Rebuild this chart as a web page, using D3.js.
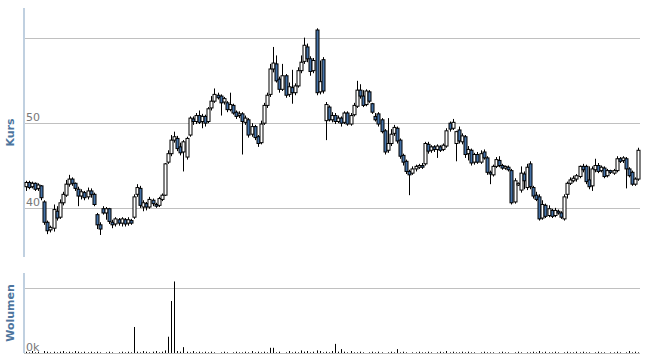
<!DOCTYPE html>
<html lang="pl">
<head>
<meta charset="UTF-8">
<title>Kurs / Wolumen</title>
<style>
    body { margin: 0; padding: 0; background: #fff; }
    svg { display: block; }
    .tick-label { font-family: "DejaVu Sans", Verdana, sans-serif; font-size: 11px; fill: #777; }
    .axis-title { font-family: "DejaVu Sans", Verdana, sans-serif; font-size: 11px; font-weight: bold; fill: #4d759e; }
</style>
</head>
<body>
<div id="chart"></div>
<script src="https://cdn.jsdelivr.net/npm/d3@7"></script>
<script>
// price data (one candle per session)
const opens = [
    42.5,43.0,42.5,42.9,42.3,42.6,40.7,38.3,37.4,37.6,
    39.6,38.9,40.6,41.5,42.8,43.4,42.9,42.2,41.4,41.8,
    41.3,42.0,41.6,39.2,38.0,39.9,39.4,39.9,38.3,38.1,
    38.6,38.2,38.6,38.2,38.5,38.9,41.6,42.3,40.1,40.5,
    40.1,40.9,40.4,40.3,41.0,41.5,45.4,46.4,48.0,48.2,
    47.2,46.6,46.0,48.6,50.5,50.2,50.9,50.2,50.8,50.2,
    51.8,52.6,53.3,53.2,52.5,52.4,51.6,52.1,51.3,50.9,
    51.1,50.1,50.4,48.7,49.6,48.4,47.7,50.0,52.1,53.4,
    56.4,57.0,55.2,54.0,55.6,53.4,54.2,53.6,54.4,56.2,
    57.3,59.0,57.6,56.2,61.0,53.7,57.5,50.3,51.9,50.4,
    50.9,50.2,50.6,50.1,51.2,49.9,51.0,52.0,53.9,53.2,
    52.2,53.7,52.3,50.8,51.1,50.4,49.1,46.8,47.6,48.8,
    49.4,48.0,46.2,45.5,44.3,44.1,44.6,44.8,45.0,45.2,
    47.5,46.8,47.2,46.9,47.2,46.9,47.3,50.0,49.4,47.6,
    49.2,47.8,48.4,46.4,46.8,45.4,46.3,45.4,46.6,45.9,
    44.2,43.9,44.9,45.6,45.0,44.7,44.8,44.4,40.7,42.7,
    42.1,44.0,42.4,45.2,42.4,41.5,41.3,38.8,40.3,39.1,
    39.7,39.1,39.6,39.4,38.7,41.6,42.9,43.2,43.4,43.7,
    44.9,44.9,43.3,42.6,44.5,45.0,44.4,44.7,43.8,44.4,
    44.1,44.4,45.8,45.6,45.8,44.6,44.2,42.8,43.4
];
const highs = [
    43.2,43.2,43.1,43.0,42.9,42.7,40.9,38.5,37.9,40.4,
    40.2,41.0,41.9,43.3,43.9,43.6,43.0,42.5,42.2,42.0,
    42.4,42.3,41.8,39.4,38.3,40.2,40.1,40.0,38.6,38.9,
    38.8,38.9,38.8,38.9,38.7,41.6,42.8,42.6,40.9,40.7,
    41.3,41.1,40.6,41.3,41.7,45.3,46.8,48.6,49.0,48.5,
    47.7,48.0,48.4,50.8,50.8,51.2,51.5,51.1,51.0,51.9,
    53.2,54.1,53.6,53.4,53.1,52.6,53.6,52.3,51.5,51.4,
    51.3,50.9,50.6,50.0,49.8,48.6,50.3,52.4,53.6,57.0,
    59.0,58.0,55.5,57.0,55.8,54.8,56.3,54.7,56.6,58.0,
    60.1,59.4,57.9,57.7,61.2,57.4,57.8,52.5,52.1,51.3,
    51.2,50.9,50.8,51.4,51.4,51.2,52.4,55.0,54.6,53.9,
    54.0,53.9,52.4,51.2,51.3,50.6,49.3,50.6,49.3,49.8,
    49.6,48.2,46.4,45.7,44.5,44.9,45.1,45.2,45.3,47.8,
    47.8,47.4,47.4,47.5,47.4,47.6,49.4,50.2,50.5,49.1,
    49.6,48.8,48.6,47.3,47.0,46.5,46.6,46.8,46.9,46.1,
    44.4,45.1,46.0,46.1,45.2,45.0,45.0,44.6,43.5,43.0,
    44.9,44.3,45.2,45.5,42.6,41.9,41.6,40.9,40.5,40.3,
    39.9,40.0,39.8,39.6,41.6,43.1,43.6,43.8,44.0,45.0,
    45.2,45.1,44.9,44.9,45.8,45.3,45.0,44.9,44.6,44.5,
    44.6,46.1,46.0,46.1,46.0,44.8,44.4,43.6,47.1
];
const lows = [
    42.0,42.2,42.3,42.0,42.0,40.9,38.0,36.9,37.1,37.2,
    38.5,38.7,40.3,41.3,42.5,42.6,42.0,40.2,41.0,40.9,
    41.0,41.2,40.2,37.5,36.8,39.2,38.6,38.1,37.6,37.8,
    37.9,37.8,37.8,37.9,38.0,38.7,41.3,40.0,39.6,39.7,
    39.9,40.2,40.0,40.1,40.8,41.4,45.2,46.1,47.7,46.7,
    46.2,44.3,45.7,48.4,49.8,49.9,49.9,49.4,49.6,50.0,
    51.5,52.4,52.8,50.9,52.2,51.3,51.4,51.0,50.5,50.6,
    46.3,49.8,48.3,48.4,48.0,47.2,47.5,49.8,51.8,53.1,
    56.0,54.8,53.6,53.8,53.0,53.1,52.3,53.3,54.2,55.9,
    57.0,57.2,55.6,55.9,53.3,53.4,53.5,48.0,50.2,50.1,
    49.9,50.0,49.6,49.9,49.7,49.7,50.8,51.8,52.9,51.9,
    52.0,52.4,51.1,50.2,49.6,48.8,46.3,46.5,47.3,48.5,
    47.6,45.8,45.0,44.0,41.5,43.9,44.3,44.6,44.6,45.0,
    46.4,46.5,46.6,45.9,46.6,46.7,47.1,49.0,49.2,45.5,
    47.6,47.5,45.9,45.6,45.0,45.1,45.2,45.2,45.7,43.9,
    42.8,43.7,44.7,44.8,44.5,44.5,44.3,40.4,40.5,42.6,
    41.8,42.2,42.1,42.2,41.1,40.8,38.5,38.6,38.8,38.9,
    38.8,38.9,39.2,38.7,38.5,41.1,42.7,43.0,43.1,43.5,
    44.2,42.8,42.2,42.0,44.2,44.1,44.2,43.5,43.6,44.0,
    43.9,44.2,45.3,45.3,42.3,43.6,42.6,42.6,43.2
];
const closes = [
    43.0,42.4,42.9,42.2,42.7,41.2,38.3,37.3,37.7,39.8,
    38.8,40.6,41.6,42.8,43.4,42.9,42.3,41.4,41.9,41.2,
    42.0,41.6,40.4,38.0,37.5,39.4,39.9,38.4,38.0,38.7,
    38.2,38.7,38.1,38.6,38.2,41.3,42.4,40.3,40.6,40.1,
    41.0,40.5,40.2,41.1,41.5,45.2,46.4,48.0,48.4,47.0,
    46.5,47.8,48.2,50.6,50.2,50.9,50.1,50.8,50.0,51.7,
    52.6,53.4,53.0,52.4,52.9,51.6,52.2,51.2,50.8,51.1,
    50.2,50.6,48.6,49.6,48.3,47.6,49.9,52.1,53.3,56.4,
    57.1,55.0,54.0,55.6,53.3,54.3,53.6,54.4,56.2,57.2,
    59.2,57.6,56.1,57.4,53.6,54.9,53.8,52.2,50.4,50.9,
    50.2,50.6,50.0,51.2,49.9,50.9,52.1,53.9,53.2,52.1,
    53.8,52.6,51.3,50.4,49.9,49.0,46.6,47.6,48.7,49.5,
    47.9,46.1,45.4,44.3,43.9,44.6,44.9,45.0,44.8,47.6,
    46.7,47.2,46.9,47.3,46.8,47.4,49.1,49.3,50.1,49.0,
    47.9,48.5,46.3,46.9,45.3,46.3,45.4,46.4,45.9,44.2,
    44.0,44.9,45.7,45.0,44.7,44.9,44.5,40.6,43.2,42.9,
    44.1,43.2,44.8,42.5,41.4,41.0,38.7,40.4,39.0,39.9,
    39.0,39.7,39.4,38.9,41.3,42.9,43.3,43.5,43.8,44.9,
    44.5,43.1,42.5,44.6,45.0,44.3,44.8,43.7,44.4,44.2,
    44.4,45.8,45.5,45.9,44.6,43.8,42.8,43.4,46.8
];
// volume in thousands
const volumes = [
    2,1,3,1,2,0,3,2,1,2,
    1,2,3,1,2,1,3,2,1,2,
    1,2,1,2,1,0,1,2,1,0,
    1,2,1,2,1,40,2,1,3,2,
    1,2,3,1,2,4,25,80,110,3,
    2,9,2,1,3,1,2,1,2,1,
    2,1,0,1,2,1,0,1,2,1,
    1,2,1,3,1,2,1,2,1,8,
    8,1,2,0,1,3,1,2,1,4,
    2,3,1,2,4,3,1,2,1,3,
    14,2,6,2,1,3,1,1,2,1,
    0,1,2,1,2,1,0,1,2,1,
    6,1,2,1,0,1,1,2,1,1,
    2,1,0,1,2,1,3,1,2,1,
    1,2,1,2,1,1,0,1,2,1,
    1,1,0,1,2,1,1,0,1,2,
    1,0,1,1,2,1,3,1,2,1,
    1,2,1,0,1,2,1,1,2,1,
    2,1,1,0,1,2,1,1,0,1,
    1,2,1,0,1,3,1,2,1
];
const priceTicks = [40, 50, 60];
const volumeTicks = [0, 100];

const w = 645;
const h = 362;
const left = 24, right = 640;
const priceTop = 8, priceBottom = 257;
const volTop = 273, volBottom = 353;

const candles = closes.map((c, i) => ({
    i: i, open: opens[i], high: highs[i], low: lows[i], close: c, volume: volumes[i]
}));

const svg = d3.select("#chart").append("svg")
    .attr("width", w)
    .attr("height", h);

const x = d3.scaleBand()
    .domain(candles.map(d => d.i))
    .range([left, right])
    .paddingInner(0.1)
    .paddingOuter(0.1);

const y = d3.scaleLinear()
    .domain([34.2, 63.6])
    .range([priceBottom, priceTop]);

const yVol = d3.scaleLinear()
    .domain([0, 123])
    .range([volBottom, volTop]);

// gridlines
function grid(scale, ticks) {
    const g = svg.append("g")
        .attr("transform", `translate(${left},0)`)
        .call(d3.axisLeft(scale).tickValues(ticks).tickSize(-(right - left)).tickFormat(""));
    g.select(".domain").remove();
    g.selectAll(".tick line").attr("stroke", "#c0c0c0").attr("shape-rendering", "crispEdges");
}
grid(y, priceTicks);
grid(yVol, volumeTicks);

// axis lines
svg.append("line")
    .attr("x1", left).attr("x2", left)
    .attr("y1", priceTop).attr("y2", priceBottom)
    .attr("stroke", "#c0d0e0").attr("stroke-width", 2);
svg.append("line")
    .attr("x1", left).attr("x2", left)
    .attr("y1", volTop).attr("y2", volBottom)
    .attr("stroke", "#c0d0e0").attr("stroke-width", 2);

// tick labels (last label hidden)
svg.selectAll(".price-label")
    .data(priceTicks.slice(0, -1))
    .enter().append("text")
    .attr("class", "tick-label")
    .attr("x", left + 2)
    .attr("y", d => y(d) - 2)
    .text(d => d);

svg.selectAll(".vol-label")
    .data(volumeTicks.slice(0, -1))
    .enter().append("text")
    .attr("class", "tick-label")
    .attr("x", left + 2)
    .attr("y", d => yVol(d) - 2)
    .text(d => d + "k");

// axis titles
svg.append("text")
    .attr("class", "axis-title")
    .attr("transform", `translate(14,${(priceTop + priceBottom) / 2}) rotate(-90)`)
    .attr("text-anchor", "middle")
    .text("Kurs");
svg.append("text")
    .attr("class", "axis-title")
    .attr("transform", `translate(14,${(volTop + volBottom) / 2}) rotate(-90)`)
    .attr("text-anchor", "middle")
    .text("Wolumen");

// candles
const bw = x.bandwidth();
const cg = svg.append("g");

cg.selectAll(".wick")
    .data(candles)
    .enter().append("line")
    .attr("class", "wick")
    .attr("x1", d => Math.round(x(d.i) + bw / 2) + 0.5)
    .attr("x2", d => Math.round(x(d.i) + bw / 2) + 0.5)
    .attr("y1", d => y(d.high))
    .attr("y2", d => y(d.low))
    .attr("stroke", "#000")
    .attr("stroke-width", 1);

cg.selectAll(".body")
    .data(candles)
    .enter().append("rect")
    .attr("class", "body")
    .attr("x", d => Math.round(x(d.i) + bw / 2) - 1)
    .attr("width", 3)
    .attr("y", d => y(Math.max(d.open, d.close)))
    .attr("height", d => Math.max(1, Math.abs(y(d.open) - y(d.close))))
    .attr("fill", d => d.close >= d.open ? "#ffffff" : "#4572a7")
    .attr("stroke", "#000")
    .attr("stroke-width", 1);

// volume bars
svg.append("g").selectAll("rect")
    .data(candles)
    .enter().append("rect")
    .attr("x", d => Math.round(x(d.i) + bw / 2))
    .attr("width", 1)
    .attr("y", d => yVol(d.volume))
    .attr("height", d => volBottom - yVol(d.volume))
    .attr("fill", "#000");
</script>
</body>
</html>
